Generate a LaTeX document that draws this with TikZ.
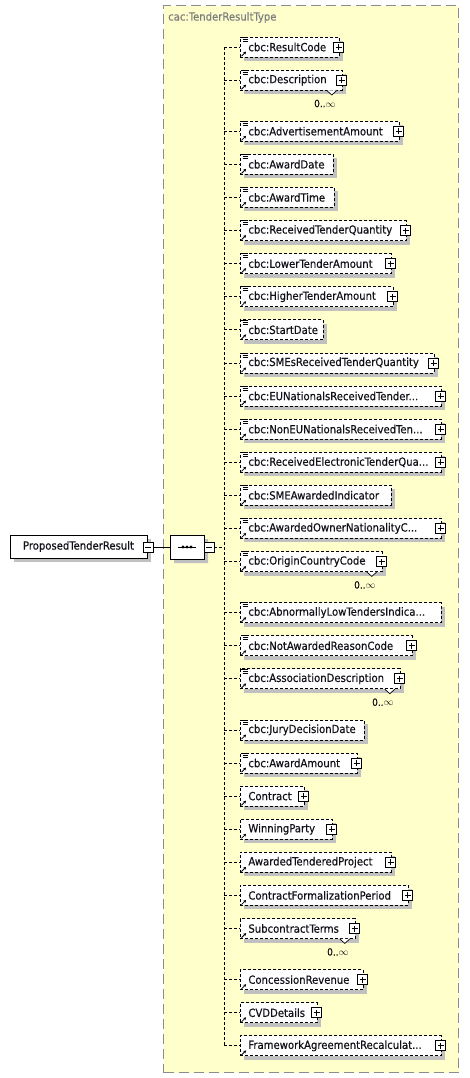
\documentclass[tikz,border=0pt]{standalone}
\usepackage{fontspec}
\setmainfont{DejaVu Sans Condensed}[FakeBold=0.35]
\usetikzlibrary{shapes.misc,shadows,arrows.meta}
\definecolor{bgy}{HTML}{FFFFCC}
\definecolor{bord}{HTML}{8C8C8C}
\definecolor{shd}{HTML}{C0C0C0}
\definecolor{txt}{HTML}{101018}
\tikzset{
  elfont/.style={font=\fontsize{11.2}{13}\selectfont},
  shad/.style={drop shadow={shadow xshift=4pt, shadow yshift=-4pt, fill=shd, opacity=1}},
  elbox/.style={draw=black, line width=0.8pt, dash pattern=on 3pt off 2pt, fill=white,
    minimum height=20pt, inner xsep=0pt, inner ysep=0pt, anchor=west, align=left,
    elfont, text=txt, shad},
  conn/.style={draw=black, line width=0.8pt, dash pattern=on 3pt off 2pt},
  pbox/.style={draw=black, line width=0.7pt, fill=white, minimum size=10pt, inner sep=0pt,
    path picture={\draw[line width=0.7pt] ([xshift=-3pt]path picture bounding box.center) -- ([xshift=3pt]path picture bounding box.center);
                  \draw[line width=0.7pt] ([yshift=-3pt]path picture bounding box.center) -- ([yshift=3pt]path picture bounding box.center);}},
  mbox/.style={draw=black, line width=0.7pt, fill=white, minimum size=10pt, inner sep=0pt,
    path picture={\draw[line width=0.7pt] ([xshift=-3pt]path picture bounding box.center) -- ([xshift=3pt]path picture bounding box.center);}},
  grpbox/.style={draw=bord, line width=1.2pt, dash pattern=on 10pt off 5pt, fill=bgy, inner sep=0pt},
  seqbox/.style={chamfered rectangle, chamfered rectangle xsep=6pt, chamfered rectangle ysep=6pt,
    draw=black, line width=0.8pt, fill=white, minimum width=34pt, minimum height=24pt, inner sep=0pt, shad},
  topbox/.style={draw=black, line width=0.8pt, fill=white, minimum width=137pt, minimum height=23pt,
    inner sep=0pt, elfont, text=txt, shad},
  occ/.style={anchor=east, inner sep=0pt, font=\fontsize{10}{12}\selectfont, text=txt},
}
\newcommand\tdots{...}
% #1 idx, #2 y, #3 right edge, #4 text, #5 plus, #6 cbc icon, #7 multi
\newcommand\xel[7]{%
  \coordinate (s#1) at (224,#2);
  \node[elbox, minimum width={#3pt-240pt}, text width={#3pt-240pt}] (e#1) at (240,#2) {\hspace*{8pt}#4};
  \ifnum#6=1
    \draw[line width=0.7pt] ([shift={(1,0.5)}]e#1.north west) -- ++(6.5,0);
    \draw[line width=0.7pt] ([shift={(2.5,2.5)}]e#1.north west) -- ++(5,0);
    \draw[line width=0.7pt] ([shift={(2.5,4.5)}]e#1.north west) -- ++(5,0);
  \fi
  \draw[line width=0.8pt, -{Stealth[length=2.8pt,width=3pt]}] ([shift={(1.5,-1.2)}]e#1.south west) -- ++(4.6,-4.6);
  \ifnum#7=1
    \draw[line width=0.7pt, fill=white] ([xshift=-16pt]e#1.south east) -- ++(5,4.5) -- ++(5,-4.5);
    \node[occ] (o#1) at ([shift={(-7,13)}]e#1.south east) {0..$\infty$};
  \fi
  \ifnum#5=1
    \node[pbox] (p#1) at ([xshift=-1pt]e#1.east) {};
  \fi
  \draw[conn] (s#1) -- (e#1.west);
}
\begin{document}
\begin{tikzpicture}[x=1pt,y=-1pt]
\useasboundingbox (0,0) rectangle (470,1078);
\node[grpbox, minimum width=295pt, minimum height=1067pt, anchor=north west] (grp) at (163,5) {};
\node[anchor=west, inner sep=0pt, elfont, text=bord!90!black] (title) at (168,17.5) {cac:TenderResultType};

\node[topbox] (ptr) at (78.5,546.5) {ProposedTenderResult};
\node[mbox] (ptrm) at (148,547) {};
\node[seqbox] (seq) at (187,547) {};
\draw[line width=1pt] (178,547) -- (196,547);
\foreach \d in {183,187,191} \fill (\d,547) circle (1.7);
\node[mbox] (seqm) at (209,547) {};
\coordinate (sp) at (224,547);
\draw[line width=0.8pt] (ptrm.east) -- (seq.west);
\draw[conn] (seqm.east) -- (sp);

\xel{1}{47}{339}{cbc:ResultCode}{1}{1}{0}
\xel{2}{80.1}{342}{cbc:Description}{1}{1}{1}
\xel{3}{131.2}{399}{cbc:AdvertisementAmount}{1}{1}{0}
\xel{4}{164.3}{333}{cbc:AwardDate}{0}{1}{0}
\xel{5}{197.4}{334}{cbc:AwardTime}{0}{1}{0}
\xel{6}{230.5}{406}{cbc:ReceivedTenderQuantity}{1}{1}{0}
\xel{7}{263.6}{391}{cbc:LowerTenderAmount}{1}{1}{0}
\xel{8}{296.7}{393}{cbc:HigherTenderAmount}{1}{1}{0}
\xel{9}{329.8}{323}{cbc:StartDate}{0}{1}{0}
\xel{10}{362.9}{434}{cbc:SMEsReceivedTenderQuantity}{1}{1}{0}
\xel{11}{396}{441}{cbc:EUNationalsReceivedTender\tdots}{1}{1}{0}
\xel{12}{429.1}{441}{cbc:NonEUNationalsReceivedTen\tdots}{1}{1}{0}
\xel{13}{462.2}{441}{cbc:ReceivedElectronicTenderQua\tdots}{1}{1}{0}
\xel{14}{495.3}{391}{cbc:SMEAwardedIndicator}{0}{1}{0}
\xel{15}{528.4}{441}{cbc:AwardedOwnerNationalityC\tdots}{1}{1}{0}
\xel{16}{561.5}{382}{cbc:OriginCountryCode}{1}{1}{1}
\xel{17}{612.6}{441}{cbc:AbnormallyLowTendersIndica\tdots}{0}{1}{0}
\xel{18}{645.7}{412}{cbc:NotAwardedReasonCode}{1}{1}{0}
\xel{19}{678.8}{400}{cbc:AssociationDescription}{1}{1}{1}
\xel{20}{729.9}{364}{cbc:JuryDecisionDate}{0}{1}{0}
\xel{21}{763}{357}{cbc:AwardAmount}{1}{1}{0}
\xel{22}{796.1}{304}{Contract}{1}{0}{0}
\xel{23}{829.2}{332}{WinningParty}{1}{0}{0}
\xel{24}{862.3}{391}{AwardedTenderedProject}{1}{0}{0}
\xel{25}{895.4}{408}{ContractFormalizationPeriod}{1}{0}{0}
\xel{26}{928.5}{355}{SubcontractTerms}{1}{0}{1}
\xel{27}{979.6}{363}{ConcessionRevenue}{1}{0}{0}
\xel{28}{1012.7}{317}{CVDDetails}{1}{0}{0}
\xel{29}{1045.8}{441}{FrameworkAgreementRecalculat\tdots}{1}{0}{0}

\draw[conn] (s1) -- (s29);
\end{tikzpicture}
\end{document}
